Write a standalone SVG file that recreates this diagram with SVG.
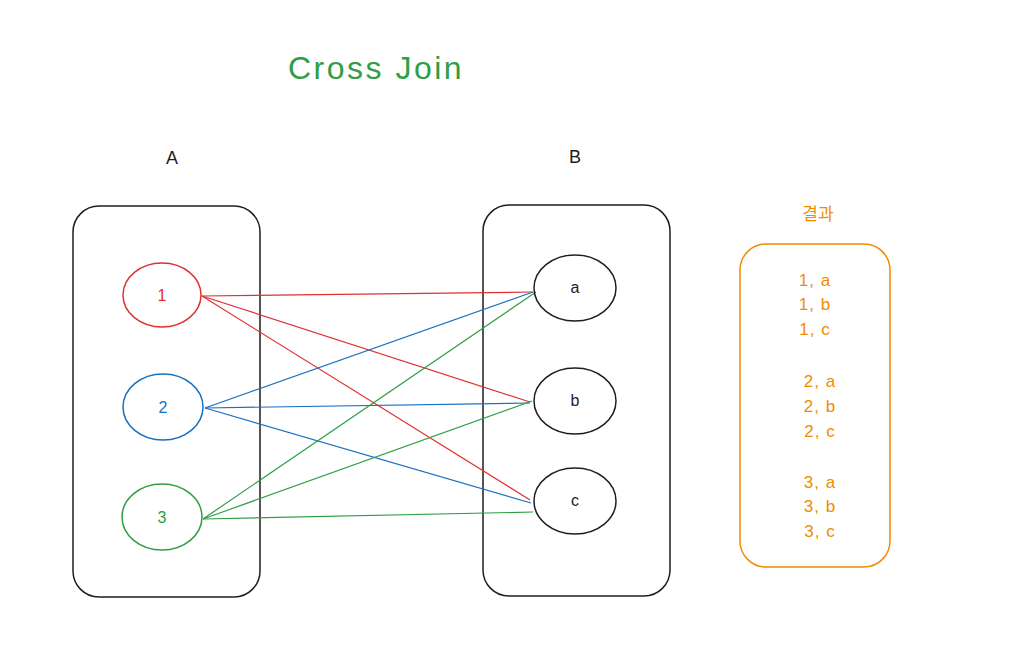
<svg xmlns="http://www.w3.org/2000/svg" width="1013" height="657" viewBox="0 0 1013 657">
<style>
text{font-family:"Liberation Sans","Noto Sans CJK KR",sans-serif;text-anchor:middle;dominant-baseline:central}
.box{fill:none;stroke:#1e1e1e;stroke-width:1.5}
.node{fill:none;stroke-width:1.5}
.red{stroke:#e03131}.blue{stroke:#1971c2}.green{stroke:#2f9e44}.blk{stroke:#1e1e1e}
.conn line{stroke-width:1.2}
.res{font-size:17px;fill:#f08c00;letter-spacing:1px}
</style>
<rect width="1013" height="657" fill="#ffffff"/>
<g id="title"><text x="376" y="68" font-size="32" letter-spacing="2.5" fill="#2f9e44">Cross Join</text></g>
<g id="label-A"><text x="172" y="158" font-size="18" fill="#1e1e1e">A</text></g>
<g id="label-B"><text x="575" y="157" font-size="18" fill="#1e1e1e">B</text></g>
<g id="label-result"><text x="818" y="214" font-size="17" fill="#f08c00">결과</text></g>
<g id="box-A"><rect class="box" x="73" y="206" width="187" height="391" rx="26"/></g>
<g id="box-B"><rect class="box" x="483" y="205" width="187" height="391" rx="26"/></g>
<g id="connectors" class="conn">
<line class="red" x1="202" y1="296" x2="533" y2="292"/>
<line class="red" x1="202" y1="296" x2="530" y2="402"/>
<line class="red" x1="202" y1="296" x2="530" y2="500"/>
<line class="blue" x1="205" y1="408" x2="533" y2="292"/>
<line class="blue" x1="205" y1="408" x2="530" y2="403"/>
<line class="blue" x1="205" y1="408" x2="531" y2="503"/>
<line class="green" x1="203" y1="519" x2="536" y2="292"/>
<line class="green" x1="203" y1="519" x2="532" y2="401"/>
<line class="green" x1="203" y1="519" x2="533" y2="512"/>
</g>
<g id="node-1"><ellipse class="node red" cx="162" cy="295" rx="39" ry="32"/><text x="162" y="295" font-size="16" fill="#e03131">1</text></g>
<g id="node-2"><ellipse class="node blue" cx="163" cy="407" rx="40" ry="33"/><text x="163" y="407" font-size="16" fill="#1971c2">2</text></g>
<g id="node-3"><ellipse class="node green" cx="162" cy="517" rx="40" ry="33"/><text x="162" y="517" font-size="16" fill="#2f9e44">3</text></g>
<g id="node-a"><ellipse class="node blk" cx="575" cy="288" rx="41" ry="33"/><text x="575" y="287" font-size="16" fill="#1e1e1e">a</text></g>
<g id="node-b"><ellipse class="node blk" cx="575" cy="401" rx="41" ry="33"/><text x="575" y="400" font-size="16" fill="#1e1e1e">b</text></g>
<g id="node-c"><ellipse class="node blk" cx="575" cy="501" rx="41" ry="33"/><text x="575" y="500" font-size="16" fill="#1e1e1e">c</text></g>
<g id="result">
<rect x="740" y="244" width="150" height="323" rx="26" fill="none" stroke="#f08c00" stroke-width="1.5"/>
<text class="res" x="815" y="280">1, a</text>
<text class="res" x="815" y="304">1, b</text>
<text class="res" x="815" y="329">1, c</text>
<text class="res" x="820" y="381">2, a</text>
<text class="res" x="820" y="406">2, b</text>
<text class="res" x="820" y="431">2, c</text>
<text class="res" x="820" y="482">3, a</text>
<text class="res" x="820" y="506">3, b</text>
<text class="res" x="820" y="531">3, c</text>
</g>
</svg>
